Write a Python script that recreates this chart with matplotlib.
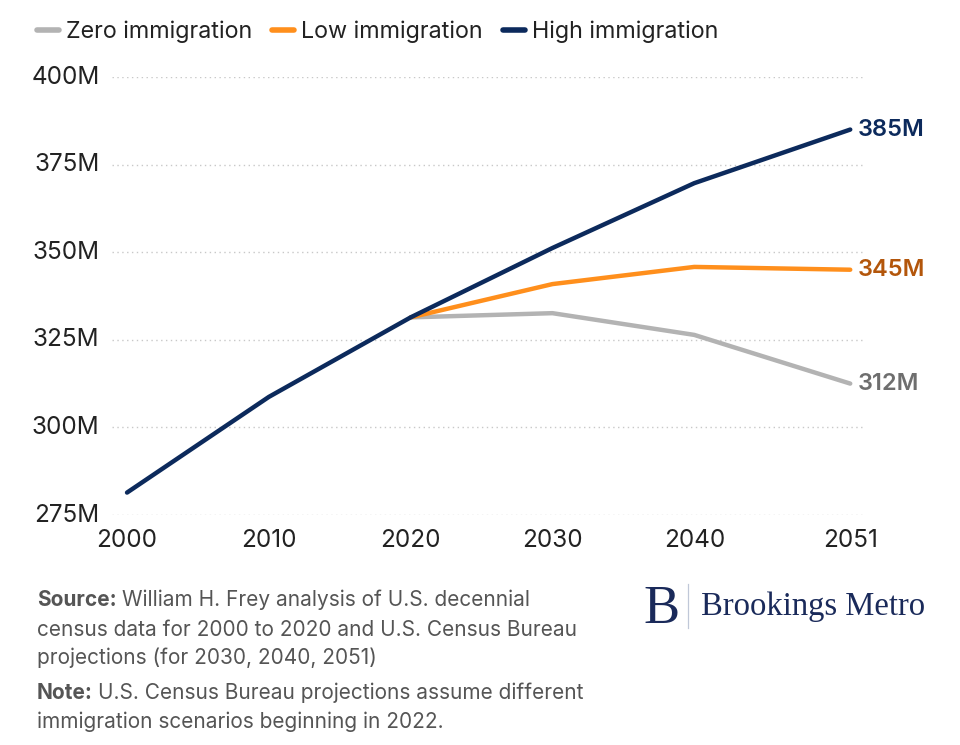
import numpy as np
import matplotlib
matplotlib.use("Agg")
import matplotlib.pyplot as plt
from matplotlib.lines import Line2D

plt.rcParams['font.family'] = ['Inter', 'DejaVu Sans']

# data (millions)
years_hist = [2000, 2010, 2020]
pop_hist = [281.4, 308.7, 331.4]
years_proj = [2020, 2030, 2040, 2051]
zero_imm = [331.4, 332.6, 326.4, 312.5]
low_imm = [331.4, 340.9, 345.8, 345.0]
high_imm = [331.4, 351.2, 369.7, 385.0]
end_labels = ['312M', '345M', '385M']
series_names = ['Zero immigration', 'Low immigration', 'High immigration']

x_ticks = [2000, 2010, 2020, 2030, 2040, 2051]
y_ticks = [275, 300, 325, 350, 375, 400]

c_zero = '#b3b3b3'
c_low = '#ff8f1c'
c_high = '#0c2a5c'
lab_cols = ['#6e6e6e', '#b3560b', c_high]

fig = plt.figure(figsize=(9.6, 7.45), dpi=100)
ax = fig.add_axes([112/960, 1-515/745, (863-112)/960, (515-77)/745])

lw = 3.2
ax.plot(years_proj, zero_imm, color=c_zero, lw=lw, solid_capstyle='round', clip_on=False, zorder=3)
ax.plot(years_proj, low_imm, color=c_low, lw=lw, solid_capstyle='round', clip_on=False, zorder=4)
ax.plot(years_hist + years_proj[1:], pop_hist + high_imm[1:], color=c_high, lw=lw,
        solid_capstyle='round', clip_on=False, zorder=5)

# end labels
for vals, lab, col in zip([zero_imm, low_imm, high_imm], end_labels, lab_cols):
    ax.text(years_proj[-1] + 0.55, vals[-1], lab, color=col, fontsize=17,
            fontweight='semibold', va='center', ha='left')

ax.set_xlim(1998.94, 2051.9)
ax.set_ylim(275, 400)
ax.set_xticks(x_ticks)
ax.set_xticklabels([str(x) for x in x_ticks])
ax.set_yticks(y_ticks)
ax.set_yticklabels([f'{y}M' for y in y_ticks])
ax.tick_params(length=0, labelsize=17.5, colors='#222222')
ax.tick_params(axis='x', pad=10)
ax.tick_params(axis='y', pad=9)
for lab in ax.get_yticklabels():
    lab.set_verticalalignment('center')
ax.grid(axis='y', color='#c8c8c8', linestyle=(0, (1, 2.5)), lw=1)
for s in ax.spines.values():
    s.set_visible(False)

# legend
handles = [Line2D([0], [0], color=c, lw=4, solid_capstyle='round') for c in (c_zero, c_low, c_high)]
fig.legend(handles, series_names,
           loc='center left', bbox_to_anchor=(37/960, 1-32/745), ncol=3, frameon=False,
           fontsize=16.8, handlelength=0.95, handletextpad=0.3, columnspacing=0.85,
           labelcolor='#222222', borderpad=0, borderaxespad=0)

# footnotes
fc = '#555555'
fs = 15
renderer = fig.canvas.get_renderer()

def label_line(x, y, bold, rest):
    t = fig.text(x/960, 1-y/745, bold, color=fc, fontsize=fs, fontweight='bold', va='center')
    bb = t.get_window_extent(renderer)
    fig.text(bb.x1/960 + 5/960, 1-y/745, rest, color=fc, fontsize=fs, va='center')

label_line(37, 600, 'Source:', 'William H. Frey analysis of U.S. decennial')
fig.text(37/960, 1-630/745, 'census data for 2000 to 2020 and U.S. Census Bureau', color=fc, fontsize=fs, va='center')
fig.text(37/960, 1-658/745, 'projections (for 2030, 2040, 2051)', color=fc, fontsize=fs, va='center')
label_line(37, 693, 'Note:', 'U.S. Census Bureau projections assume different')
fig.text(37/960, 1-722/745, 'immigration scenarios beginning in 2022.', color=fc, fontsize=fs, va='center')

# logo
navy = '#1a2a5a'
fig.text(643/960, 1-623/745, 'B', family='Liberation Serif', fontsize=39, color=navy,
         ha='left', va='baseline')
fig.add_artist(Line2D([688/960, 688/960], [1-584/745, 1-628/745], color='#c0c8d8', lw=0.9))
fig.text(701/960, 1-615/745, 'Brookings Metro', family='Liberation Serif', fontsize=23.5,
         color=navy, va='baseline')

fig.savefig('out.png', dpi=100)
